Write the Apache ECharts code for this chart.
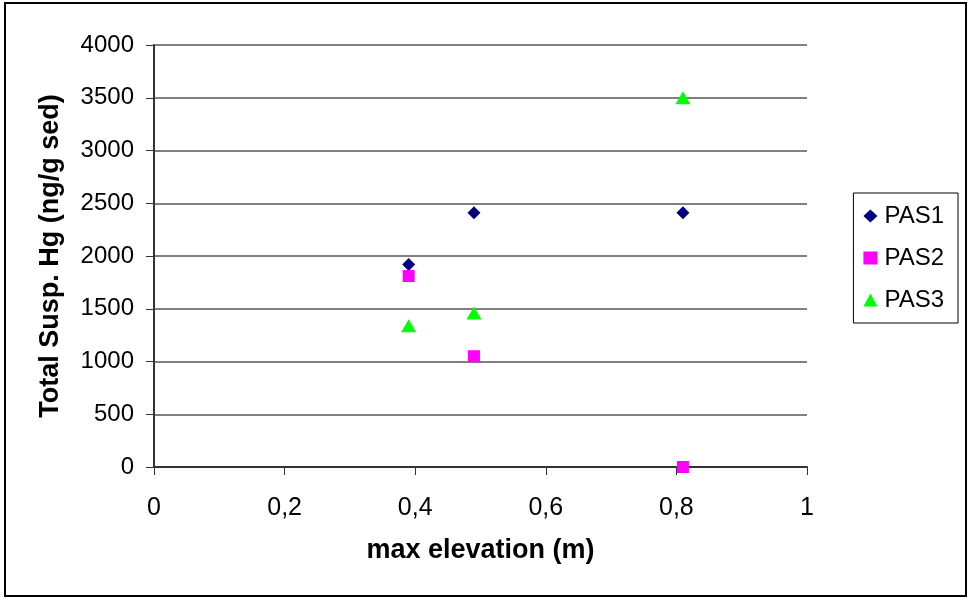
<!DOCTYPE html>
<html>
<head>
<meta charset="utf-8">
<script src="https://cdn.jsdelivr.net/npm/echarts@6/dist/echarts.min.js"></script>
<style>
html,body{margin:0;padding:0;background:#fff;}
#chart{width:971px;height:598px;}
</style>
</head>
<body>
<div id="chart"></div>
<script>
const seriesNames = ['PAS1', 'PAS2', 'PAS3'];
const elevation = [0.39, 0.49, 0.81];
const pas1 = [1920, 2410, 2410];
const pas2 = [1810, 1050, 0];
const pas3 = [1340, 1460, 3500];
const yTicks = [0, 500, 1000, 1500, 2000, 2500, 3000, 3500, 4000];
const xTicks = [0, 0.2, 0.4, 0.6, 0.8, 1];

const colors = ['#000080', '#FF00FF', '#00FF00'];
const symbols = ['diamond', 'rect', 'triangle'];
const sizes = [[13, 13], [12, 12], [15, 13]];
const values = [pas1, pas2, pas3];

const chart = echarts.init(document.getElementById('chart'));
const font = 'Liberation Sans, Arial, sans-serif';

chart.setOption({
  animation: false,
  backgroundColor: '#fff',
  grid: { left: 154, right: 164, top: 45, bottom: 131 },
  graphic: [{
    type: 'rect',
    shape: { x: 5, y: 3, width: 961, height: 593 },
    style: { fill: 'none', stroke: '#000', lineWidth: 2 },
    silent: true
  }],
  legend: {
    orient: 'vertical',
    right: 13,
    top: 193,
    padding: [11, 14, 11, 10],
    itemGap: 18,
    itemWidth: 14,
    itemHeight: 13,
    borderColor: '#000',
    borderWidth: 1,
    textStyle: { fontFamily: font, fontSize: 24, color: '#000', padding: [0, 0, 0, 2] },
    data: seriesNames.map(function (n, i) { return { name: n, icon: symbols[i] }; })
  },
  xAxis: {
    type: 'value',
    min: 0, max: 1, interval: 0.2,
    name: 'max elevation (m)',
    nameLocation: 'middle',
    nameGap: 70,
    nameTextStyle: { fontFamily: font, fontSize: 27, fontWeight: 'bold', color: '#000' },
    axisLine: { lineStyle: { color: '#333', width: 2 } },
    axisTick: { show: true, length: 8, lineStyle: { color: '#333', width: 1 } },
    axisLabel: {
      margin: 29, fontFamily: font, fontSize: 25, color: '#000',
      formatter: function (v) { return String(v).replace('.', ','); }
    },
    splitLine: { show: false }
  },
  yAxis: {
    type: 'value',
    min: 0, max: 4000, interval: 500,
    name: 'Total Susp. Hg (ng/g sed)',
    nameLocation: 'middle',
    nameGap: 90,
    nameRotate: 90,
    nameTextStyle: { fontFamily: font, fontSize: 27, fontWeight: 'bold', color: '#000' },
    axisLine: { show: true, lineStyle: { color: '#333', width: 2 } },
    axisTick: { show: true, length: 8, lineStyle: { color: '#333', width: 1 } },
    axisLabel: {
      margin: 20, fontFamily: font, fontSize: 24, color: '#000',
      formatter: function (v) { return String(v); }
    },
    splitLine: { show: true, lineStyle: { color: '#808080', width: 2 } }
  },
  series: seriesNames.map(function (n, i) {
    return {
      name: n,
      type: 'scatter',
      symbol: symbols[i],
      symbolSize: sizes[i],
      itemStyle: { color: colors[i], opacity: 1 },
      data: elevation.map(function (x, j) { return [x, values[i][j]]; }),
      z: 3 + i
    };
  })
});
</script>
</body>
</html>
